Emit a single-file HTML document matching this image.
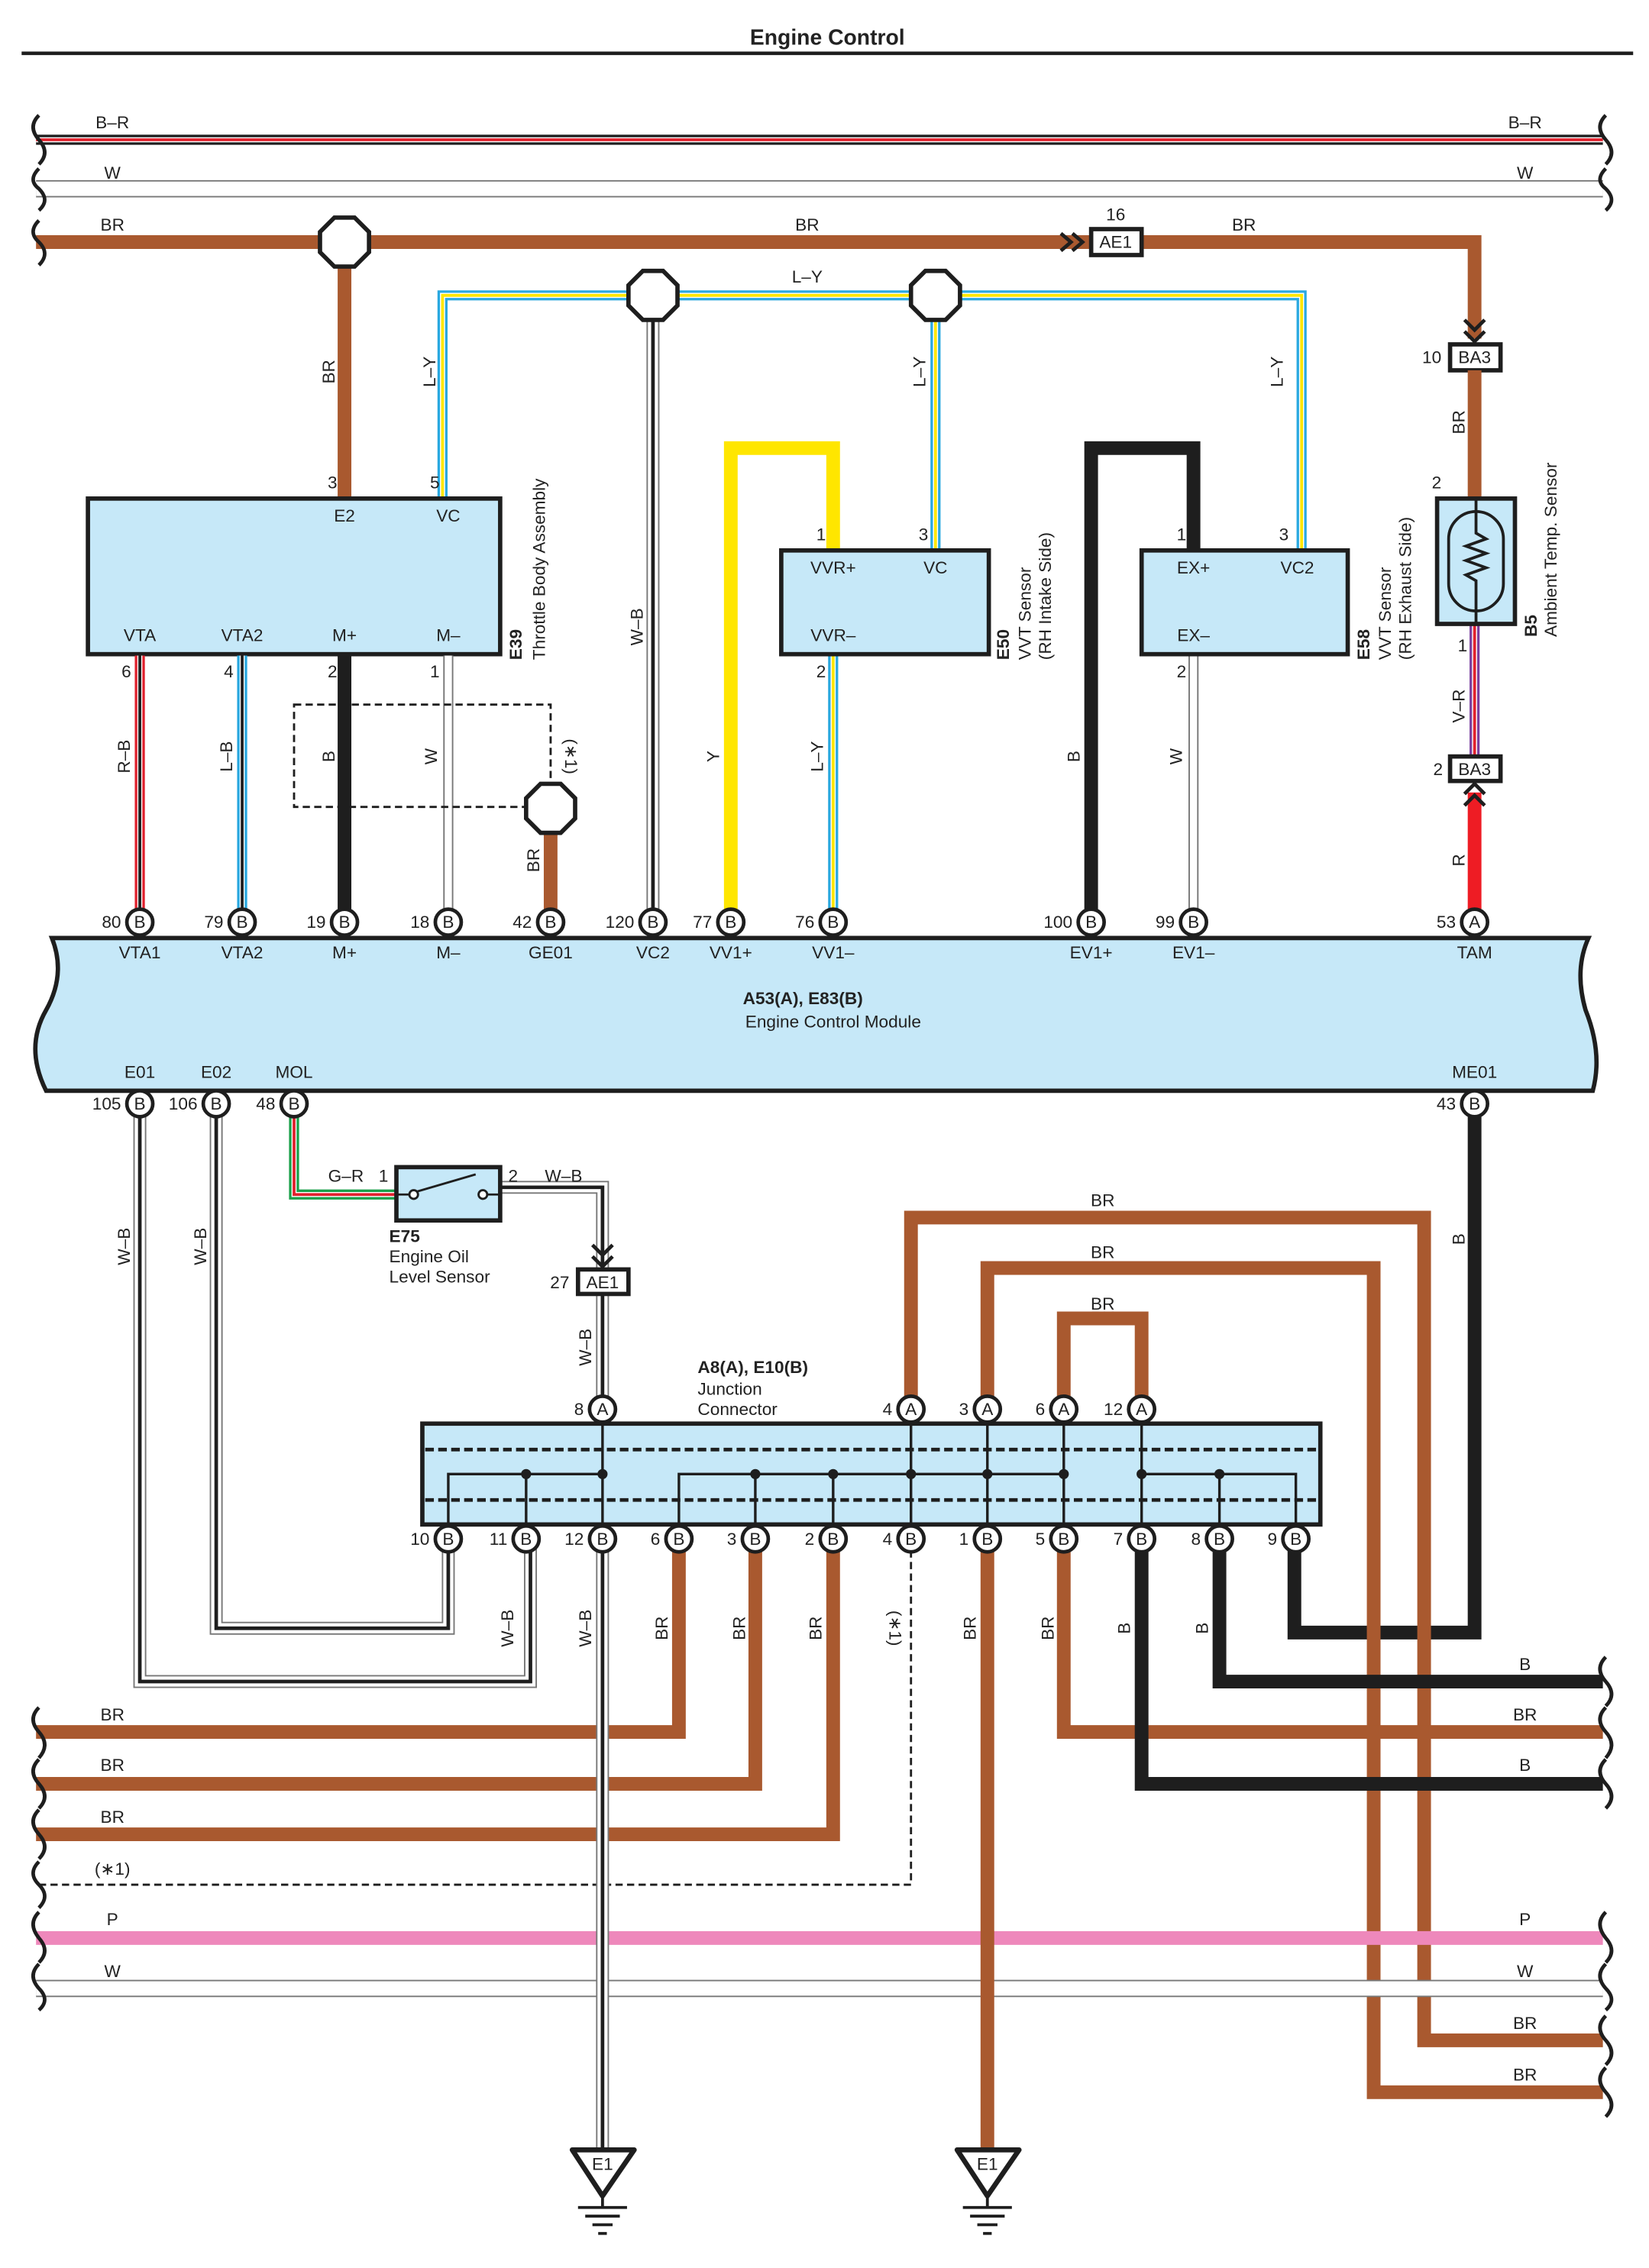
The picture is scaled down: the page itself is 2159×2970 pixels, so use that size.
<!DOCTYPE html>
<html><head><meta charset="utf-8">
<style>
html,body{margin:0;padding:0;background:#fff}
svg{display:block}
text{font-family:"Liberation Sans",Arial,sans-serif;font-size:12px;fill:#222}
.c{text-anchor:middle}
.r{text-anchor:end}
.b{font-weight:bold}
.br{fill:none;stroke:#a9592f;stroke-width:9.5;stroke-linejoin:miter}
.bk{fill:none;stroke:#1e1e1e;stroke-width:9.5}
.yl{fill:none;stroke:#ffe600;stroke-width:9.5}
.rd{fill:none;stroke:#ee1c24;stroke-width:9.5}
.pk{fill:none;stroke:#ee88bb;stroke-width:9.5}
.wo{fill:none;stroke:#777;stroke-width:9}
.wi{fill:none;stroke:#fff;stroke-width:7}
.bo{fill:none;stroke:#29a8e0;stroke-width:7}
.ro{fill:none;stroke:#e0202c;stroke-width:7}
.vo{fill:none;stroke:#7b3f9e;stroke-width:7}
.go{fill:none;stroke:#1aa04a;stroke-width:7}
.ko{fill:none;stroke:#1e1e1e;stroke-width:7}
.ww{fill:none;stroke:#fff;stroke-width:3.5}
.ky{fill:none;stroke:#ffe600;stroke-width:2}
.kk{fill:none;stroke:#1e1e1e;stroke-width:2.5}
.kr{fill:none;stroke:#e0202c;stroke-width:2}
.box{fill:#c6e8f8;stroke:#1e1e1e;stroke-width:3}
.pin{fill:#fff;stroke:#1e1e1e;stroke-width:2.5}
.oct{fill:#fff;stroke:#1e1e1e;stroke-width:3}
.ln{fill:none;stroke:#1e1e1e;stroke-width:2}
.dsh{fill:none;stroke:#1e1e1e;stroke-width:1.5;stroke-dasharray:5,3}
.wav{fill:none;stroke:#1e1e1e;stroke-width:2.5}
</style></head><body>
<svg width="2159" height="2970" viewBox="0 0 1144 1574" preserveAspectRatio="none" xmlns="http://www.w3.org/2000/svg">
<defs>
<polygon id="oct" points="-7,-17 7,-17 17,-7 17,7 7,17 -7,17 -17,7 -17,-7"/>
</defs>

<text x="574" y="31" class="c b" style="font-size:15px">Engine Control</text>
<line x1="15" y1="37" x2="1133" y2="37" stroke="#1e1e1e" stroke-width="2.5"/>

<!-- top bus -->
<path class="ko" d="M25 97H1112"/><path class="ww" d="M25 97H1112"/><path class="kr" d="M25 97H1112"/>
<path class="wo" d="M25 131H1112" style="stroke-width:12"/><path class="wi" d="M25 131H1112" style="stroke-width:10"/>
<path class="br" d="M25 168H1023V235"/>
<!-- wavy ends top -->
<path class="wav" d="M27 80 q-8 8 0 17 q8 9 0 17 M27 117 q-8 8 0 14 q8 8 0 15 M27 153 q-8 8 0 15 q8 8 0 16"/>
<path class="wav" d="M1114 80 q-8 8 0 17 q8 9 0 17 M1114 117 q-8 8 0 14 q8 8 0 15"/>
<text x="78" y="89" class="c">B–R</text><text x="1058" y="89" class="c">B–R</text>
<text x="78" y="124" class="c">W</text><text x="1058" y="124" class="c">W</text>
<text x="78" y="160" class="c">BR</text><text x="560" y="160" class="c">BR</text><text x="863" y="160" class="c">BR</text>

<!-- BR down to E39 -->
<path class="br" d="M239 168V346"/>
<!-- L-Y loop -->
<path class="bo" d="M307 346V205H903V382"/><path class="ww" d="M307 346V205H903V382"/><path class="ky" d="M307 346V205H903V382"/>
<path class="bo" d="M649 205V382"/><path class="ww" d="M649 205V382"/><path class="ky" d="M649 205V382"/>
<text x="560" y="196" class="c">L–Y</text>
<!-- W-B from VC2 splice -->
<path class="wo" d="M453 205V640"/><path class="wi" d="M453 205V640"/><path class="kk" d="M453 205V640"/>

<use href="#oct" x="239" y="168" class="oct"/>
<use href="#oct" x="453" y="205" class="oct"/>
<use href="#oct" x="649" y="205" class="oct"/>

<!-- AE1 16 -->
<path class="ln" d="M736 162l7 6-7 6M744 162l7 6-7 6" style="stroke-width:2.5"/>
<rect x="757" y="159" width="35" height="18" fill="#fff" stroke="#1e1e1e" stroke-width="3"/>
<text x="774" y="172" class="c">AE1</text><text x="774" y="153" class="c">16</text>

<!-- BA3 10 -->
<path class="ln" d="M1016 222l7 7 7-7M1016 230l7 7 7-7" style="stroke-width:2.5"/>
<rect x="1006" y="239" width="35" height="18" fill="#fff" stroke="#1e1e1e" stroke-width="3"/>
<text x="1023" y="252" class="c">BA3</text><text x="1000" y="252" class="r">10</text>
<path class="br" d="M1023 257V347"/>
<text x="1000" y="339" class="r">2</text>

<!-- vertical labels top -->
<g>
<text transform="translate(232,258) rotate(-90)" class="c">BR</text>
<text transform="translate(302,258) rotate(-90)" class="c">L–Y</text>
<text transform="translate(446,435) rotate(-90)" class="c">W–B</text>
<text transform="translate(642,258) rotate(-90)" class="c">L–Y</text>
<text transform="translate(890,258) rotate(-90)" class="c">L–Y</text>
<text transform="translate(1016,293) rotate(-90)" class="c">BR</text>
</g>

<!-- E39 -->
<rect x="61" y="346" width="286" height="108" class="box"/>
<text x="239" y="362" class="c">E2</text><text x="311" y="362" class="c">VC</text>
<text x="97" y="445" class="c">VTA</text><text x="168" y="445" class="c">VTA2</text><text x="239" y="445" class="c">M+</text><text x="311" y="445" class="c">M–</text>
<text x="234" y="339" class="r">3</text><text x="305" y="339" class="r">5</text>
<text x="91" y="470" class="r">6</text><text x="162" y="470" class="r">4</text><text x="234" y="470" class="r">2</text><text x="305" y="470" class="r">1</text>
<text transform="translate(362,458) rotate(-90)" class="b">E39</text>
<text transform="translate(378,458) rotate(-90)">Throttle Body Assembly</text>

<!-- E39 bottom wires -->
<path class="ro" d="M97 455V640"/><path class="ww" d="M97 455V640"/><path class="kk" d="M97 455V640" style="stroke-width:2"/>
<path class="bo" d="M168 455V640"/><path class="ww" d="M168 455V640"/><path class="kk" d="M168 455V640" style="stroke-width:2"/>
<path class="bk" d="M239 455V640"/>
<path class="wo" d="M311 455V640" style="stroke-width:7"/><path class="wi" d="M311 455V640" style="stroke-width:5"/>
<rect x="204" y="489" width="178" height="71" class="dsh"/>
<path class="br" d="M382 561V640"/>
<use href="#oct" x="382" y="561" class="oct"/>
<text transform="translate(90,525) rotate(-90)" class="c">R–B</text>
<text transform="translate(161,525) rotate(-90)" class="c">L–B</text>
<text transform="translate(232,525) rotate(-90)" class="c">B</text>
<text transform="translate(303,525) rotate(-90)" class="c">W</text>
<text transform="translate(392,525) rotate(90)" class="c">(∗1)</text>
<text transform="translate(374,597) rotate(-90)" class="c">BR</text>

<!-- E50 -->
<path class="yl" d="M578 382V311H507V640"/>
<path class="bo" d="M578 455V640"/><path class="ww" d="M578 455V640"/><path class="ky" d="M578 455V640"/>
<rect x="542" y="382" width="144" height="72" class="box"/>
<text x="578" y="398" class="c">VVR+</text><text x="649" y="398" class="c">VC</text><text x="578" y="445" class="c">VVR–</text>
<text x="573" y="375" class="r">1</text><text x="644" y="375" class="r">3</text><text x="573" y="470" class="r">2</text>
<text transform="translate(700,458) rotate(-90)" class="b">E50</text>
<text transform="translate(715,458) rotate(-90)">VVT Sensor</text>
<text transform="translate(729,458) rotate(-90)">(RH Intake Side)</text>
<text transform="translate(499,525) rotate(-90)" class="c">Y</text>
<text transform="translate(571,525) rotate(-90)" class="c">L–Y</text>

<!-- E58 -->
<path class="bk" d="M828 382V311H757V640"/>
<path class="wo" d="M828 455V640" style="stroke-width:7"/><path class="wi" d="M828 455V640" style="stroke-width:5"/>
<rect x="792" y="382" width="143" height="72" class="box"/>
<text x="828" y="398" class="c">EX+</text><text x="900" y="398" class="c">VC2</text><text x="828" y="445" class="c">EX–</text>
<text x="823" y="375" class="r">1</text><text x="894" y="375" class="r">3</text><text x="823" y="470" class="r">2</text>
<text transform="translate(950,458) rotate(-90)" class="b">E58</text>
<text transform="translate(965,458) rotate(-90)">VVT Sensor</text>
<text transform="translate(979,458) rotate(-90)">(RH Exhaust Side)</text>
<text transform="translate(749,525) rotate(-90)" class="c">B</text>
<text transform="translate(820,525) rotate(-90)" class="c">W</text>

<!-- B5 -->
<path class="vo" d="M1023 433V525"/><path class="ww" d="M1023 433V525"/><path class="kr" d="M1023 433V525"/>
<path class="rd" d="M1023 550V640"/>
<rect x="997" y="346" width="54" height="87" class="box"/>
<rect x="1005" y="355" width="38" height="69" rx="19" fill="none" stroke="#1e1e1e" stroke-width="2"/>
<path class="ln" d="M1024 347V370l7 4-14 5 14 5-14 5 14 5-14 5 7 4V433"/>
<text x="1018" y="452" class="r">1</text>
<text transform="translate(1066,442) rotate(-90)" class="b">B5</text>
<text transform="translate(1080,442) rotate(-90)">Ambient Temp.  Sensor</text>
<rect x="1006" y="525" width="35" height="17" fill="#fff" stroke="#1e1e1e" stroke-width="3"/>
<text x="1023" y="538" class="c">BA3</text><text x="1001" y="538" class="r">2</text>
<path class="ln" d="M1016 551l7-7 7 7M1016 559l7-7 7 7" style="stroke-width:2.5"/>
<text transform="translate(1016,490) rotate(-90)" class="c">V–R</text>
<text transform="translate(1016,597) rotate(-90)" class="c">R</text>

<!-- ECM -->
<path class="box" d="M36 651H1102q-10 22 -2 50q12 30 5 56H32q-15 -30 0 -56q14 -25 4 -50z"/>
<g>
<circle cx="97" cy="640" r="9" class="pin"/><text x="97" y="644" class="c">B</text><text x="84" y="644" class="r">80</text>
<circle cx="168" cy="640" r="9" class="pin"/><text x="168" y="644" class="c">B</text><text x="155" y="644" class="r">79</text>
<circle cx="239" cy="640" r="9" class="pin"/><text x="239" y="644" class="c">B</text><text x="226" y="644" class="r">19</text>
<circle cx="311" cy="640" r="9" class="pin"/><text x="311" y="644" class="c">B</text><text x="298" y="644" class="r">18</text>
<circle cx="382" cy="640" r="9" class="pin"/><text x="382" y="644" class="c">B</text><text x="369" y="644" class="r">42</text>
<circle cx="453" cy="640" r="9" class="pin"/><text x="453" y="644" class="c">B</text><text x="440" y="644" class="r">120</text>
<circle cx="507" cy="640" r="9" class="pin"/><text x="507" y="644" class="c">B</text><text x="494" y="644" class="r">77</text>
<circle cx="578" cy="640" r="9" class="pin"/><text x="578" y="644" class="c">B</text><text x="565" y="644" class="r">76</text>
<circle cx="757" cy="640" r="9" class="pin"/><text x="757" y="644" class="c">B</text><text x="744" y="644" class="r">100</text>
<circle cx="828" cy="640" r="9" class="pin"/><text x="828" y="644" class="c">B</text><text x="815" y="644" class="r">99</text>
<circle cx="1023" cy="640" r="9" class="pin"/><text x="1023" y="644" class="c">A</text><text x="1010" y="644" class="r">53</text>
</g>
<text x="97" y="665" class="c">VTA1</text><text x="168" y="665" class="c">VTA2</text><text x="239" y="665" class="c">M+</text><text x="311" y="665" class="c">M–</text><text x="382" y="665" class="c">GE01</text><text x="453" y="665" class="c">VC2</text><text x="507" y="665" class="c">VV1+</text><text x="578" y="665" class="c">VV1–</text><text x="757" y="665" class="c">EV1+</text><text x="828" y="665" class="c">EV1–</text><text x="1023" y="665" class="c">TAM</text>
<text x="557" y="697" class="c b">A53(A), E83(B)</text>
<text x="578" y="713" class="c">Engine Control Module</text>
<text x="97" y="748" class="c">E01</text><text x="150" y="748" class="c">E02</text><text x="204" y="748" class="c">MOL</text><text x="1023" y="748" class="c">ME01</text>

<!-- below ECM wires -->
<path class="wo" d="M97 766V1167H368V1068"/><path class="wi" d="M97 766V1167H368V1068"/><path class="kk" d="M97 766V1167H368V1068"/>
<path class="wo" d="M150 766V1130H311V1068"/><path class="wi" d="M150 766V1130H311V1068"/><path class="kk" d="M150 766V1130H311V1068"/>
<path class="go" d="M204 766V829H276"/><path class="ww" d="M204 766V829H276"/><path class="kr" d="M204 766V829H276"/>
<path class="wo" d="M346 824H418V880"/><path class="wi" d="M346 824H418V880"/><path class="kk" d="M346 824H418V880"/>
<path class="wo" d="M418 898V978"/><path class="wi" d="M418 898V978"/><path class="kk" d="M418 898V978"/>
<path class="bk" d="M1023 766V1133H898V1068"/>
<text transform="translate(90,865) rotate(-90)" class="c">W–B</text>
<text transform="translate(143,865) rotate(-90)" class="c">W–B</text>
<text transform="translate(410,935) rotate(-90)" class="c">W–B</text>
<text transform="translate(1016,860) rotate(-90)" class="c">B</text>

<circle cx="97" cy="766" r="9" class="pin"/><text x="97" y="770" class="c">B</text><text x="84" y="770" class="r">105</text>
<circle cx="150" cy="766" r="9" class="pin"/><text x="150" y="770" class="c">B</text><text x="137" y="770" class="r">106</text>
<circle cx="204" cy="766" r="9" class="pin"/><text x="204" y="770" class="c">B</text><text x="191" y="770" class="r">48</text>
<circle cx="1023" cy="766" r="9" class="pin"/><text x="1023" y="770" class="c">B</text><text x="1010" y="770" class="r">43</text>

<!-- E75 -->
<rect x="275" y="810" width="72" height="37" class="box"/>
<circle cx="287" cy="829" r="3" fill="#fff" stroke="#1e1e1e" stroke-width="1.5"/>
<circle cx="335" cy="829" r="3" fill="#fff" stroke="#1e1e1e" stroke-width="1.5"/>
<path class="ln" d="M289 827L330 815M338 829H347M275 829H284" style="stroke-width:1.5"/>
<text x="240" y="820" class="c">G–R</text><text x="266" y="820" class="c">1</text>
<text x="356" y="820" class="c">2</text><text x="391" y="820" class="c">W–B</text>
<text x="270" y="862" class="b">E75</text>
<text x="270" y="876">Engine Oil</text>
<text x="270" y="890">Level Sensor</text>

<!-- AE1 27 -->
<path class="ln" d="M411 864l7 7 7-7M411 872l7 7 7-7" style="stroke-width:2.5"/>
<rect x="401" y="881" width="35" height="17" fill="#fff" stroke="#1e1e1e" stroke-width="3"/>
<text x="418" y="894" class="c">AE1</text><text x="395" y="894" class="r">27</text>

<!-- BR loops above junction -->
<path class="br" d="M632 978V845H988V1416H1112"/>
<path class="br" d="M685 978V880H953V1452H1112"/>
<path class="br" d="M738 978V915H792V978"/>
<text x="765" y="837" class="c">BR</text><text x="765" y="873" class="c">BR</text><text x="765" y="909" class="c">BR</text>

<!-- junction label -->
<text x="484" y="953" class="b">A8(A), E10(B)</text>
<text x="484" y="968">Junction</text>
<text x="484" y="982">Connector</text>

<!-- bottom bus -->
<path class="pk" d="M25 1345H1112"/>
<path class="wo" d="M25 1380H1112" style="stroke-width:12"/><path class="wi" d="M25 1380H1112" style="stroke-width:10"/>
<path class="br" d="M471 1068V1202H25"/>
<path class="br" d="M524 1068V1238H25"/>
<path class="br" d="M578 1068V1273H25"/>
<path class="dsh" d="M632 1068V1308H25"/>
<path class="br" d="M738 1068V1202H1112"/>
<path class="bk" d="M792 1068V1238H1112"/>
<path class="bk" d="M846 1068V1167H1112"/>
<path class="wo" d="M418 1068V1495"/><path class="wi" d="M418 1068V1495"/><path class="kk" d="M418 1068V1495"/>
<path class="br" d="M685 1068V1495"/>

<path class="wav" d="M27 1185 q-8 8 0 17 q8 9 0 18 M27 1221 q-8 8 0 17 q8 9 0 17 M27 1256 q-8 8 0 17 q8 9 0 17 M27 1292 q-8 8 0 16 q8 8 0 16 M27 1327 q-8 8 0 18 q8 9 0 17 M27 1363 q-8 8 0 17 q8 8 0 15"/>
<path class="wav" d="M1114 1150 q-8 8 0 17 q8 9 0 17 M1114 1185 q-8 8 0 17 q8 9 0 18 M1114 1221 q-8 8 0 17 q8 9 0 17 M1114 1327 q-8 8 0 18 q8 9 0 17 M1114 1363 q-8 8 0 17 q8 8 0 15 M1114 1399 q-8 8 0 17 q8 9 0 17 M1114 1435 q-8 8 0 17 q8 9 0 17"/>

<text x="78" y="1194" class="c">BR</text><text x="78" y="1229" class="c">BR</text><text x="78" y="1265" class="c">BR</text><text x="78" y="1301" class="c">(∗1)</text><text x="78" y="1336" class="c">P</text><text x="78" y="1372" class="c">W</text>
<text x="1058" y="1159" class="c">B</text><text x="1058" y="1194" class="c">BR</text><text x="1058" y="1229" class="c">B</text><text x="1058" y="1336" class="c">P</text><text x="1058" y="1372" class="c">W</text><text x="1058" y="1408" class="c">BR</text><text x="1058" y="1444" class="c">BR</text>

<text transform="translate(356,1130) rotate(-90)" class="c">W–B</text>
<text transform="translate(410,1130) rotate(-90)" class="c">W–B</text>
<text transform="translate(463,1130) rotate(-90)" class="c">BR</text>
<text transform="translate(517,1130) rotate(-90)" class="c">BR</text>
<text transform="translate(570,1130) rotate(-90)" class="c">BR</text>
<text transform="translate(617,1130) rotate(90)" class="c">(∗1)</text>
<text transform="translate(677,1130) rotate(-90)" class="c">BR</text>
<text transform="translate(731,1130) rotate(-90)" class="c">BR</text>
<text transform="translate(784,1130) rotate(-90)" class="c">B</text>
<text transform="translate(838,1130) rotate(-90)" class="c">B</text>

<!-- junction box -->
<rect x="293" y="988" width="623" height="70" class="box"/>
<path class="dsh" d="M295 1006H914M295 1041H914" style="stroke-width:2.5;stroke-dasharray:6,3"/>
<path class="ln" d="M311 1068V1023H418M418 978V1068M365 1023V1068
M471 1068V1023H738M524 1023V1068M578 1023V1068M632 978V1068M685 978V1068M738 978V1068
M792 978V1068M792 1023H899V1068M846 1023V1068" style="stroke-width:1.8"/>
<g fill="#1e1e1e">
<circle cx="365" cy="1023" r="3.5"/><circle cx="418" cy="1023" r="3.5"/>
<circle cx="524" cy="1023" r="3.5"/><circle cx="578" cy="1023" r="3.5"/><circle cx="632" cy="1023" r="3.5"/><circle cx="685" cy="1023" r="3.5"/><circle cx="738" cy="1023" r="3.5"/>
<circle cx="792" cy="1023" r="3.5"/><circle cx="846" cy="1023" r="3.5"/>
</g>
<g>
<circle cx="418" cy="978" r="9" class="pin"/><text x="418" y="982" class="c">A</text><text x="405" y="982" class="r">8</text>
<circle cx="632" cy="978" r="9" class="pin"/><text x="632" y="982" class="c">A</text><text x="619" y="982" class="r">4</text>
<circle cx="685" cy="978" r="9" class="pin"/><text x="685" y="982" class="c">A</text><text x="672" y="982" class="r">3</text>
<circle cx="738" cy="978" r="9" class="pin"/><text x="738" y="982" class="c">A</text><text x="725" y="982" class="r">6</text>
<circle cx="792" cy="978" r="9" class="pin"/><text x="792" y="982" class="c">A</text><text x="779" y="982" class="r">12</text>
<circle cx="311" cy="1068" r="9" class="pin"/><text x="311" y="1072" class="c">B</text><text x="298" y="1072" class="r">10</text>
<circle cx="365" cy="1068" r="9" class="pin"/><text x="365" y="1072" class="c">B</text><text x="352" y="1072" class="r">11</text>
<circle cx="418" cy="1068" r="9" class="pin"/><text x="418" y="1072" class="c">B</text><text x="405" y="1072" class="r">12</text>
<circle cx="471" cy="1068" r="9" class="pin"/><text x="471" y="1072" class="c">B</text><text x="458" y="1072" class="r">6</text>
<circle cx="524" cy="1068" r="9" class="pin"/><text x="524" y="1072" class="c">B</text><text x="511" y="1072" class="r">3</text>
<circle cx="578" cy="1068" r="9" class="pin"/><text x="578" y="1072" class="c">B</text><text x="565" y="1072" class="r">2</text>
<circle cx="632" cy="1068" r="9" class="pin"/><text x="632" y="1072" class="c">B</text><text x="619" y="1072" class="r">4</text>
<circle cx="685" cy="1068" r="9" class="pin"/><text x="685" y="1072" class="c">B</text><text x="672" y="1072" class="r">1</text>
<circle cx="738" cy="1068" r="9" class="pin"/><text x="738" y="1072" class="c">B</text><text x="725" y="1072" class="r">5</text>
<circle cx="792" cy="1068" r="9" class="pin"/><text x="792" y="1072" class="c">B</text><text x="779" y="1072" class="r">7</text>
<circle cx="846" cy="1068" r="9" class="pin"/><text x="846" y="1072" class="c">B</text><text x="833" y="1072" class="r">8</text>
<circle cx="899" cy="1068" r="9" class="pin"/><text x="899" y="1072" class="c">B</text><text x="886" y="1072" class="r">9</text>
</g>

<!-- grounds -->
<g>
<path d="M397 1492H440L418 1524Z" fill="#fff" stroke="#1e1e1e" stroke-width="3.5" stroke-linejoin="round"/>
<text x="418" y="1506" class="c">E1</text>
<path class="ln" d="M418 1524V1532M401 1532H435M406 1538H430M411 1544H425M415 1550H421"/>
<path d="M664 1492H707L685 1524Z" fill="#fff" stroke="#1e1e1e" stroke-width="3.5" stroke-linejoin="round"/>
<text x="685" y="1506" class="c">E1</text>
<path class="ln" d="M685 1524V1532M668 1532H702M673 1538H697M678 1544H692M682 1550H688"/>
</g>
</svg>
</body></html>
